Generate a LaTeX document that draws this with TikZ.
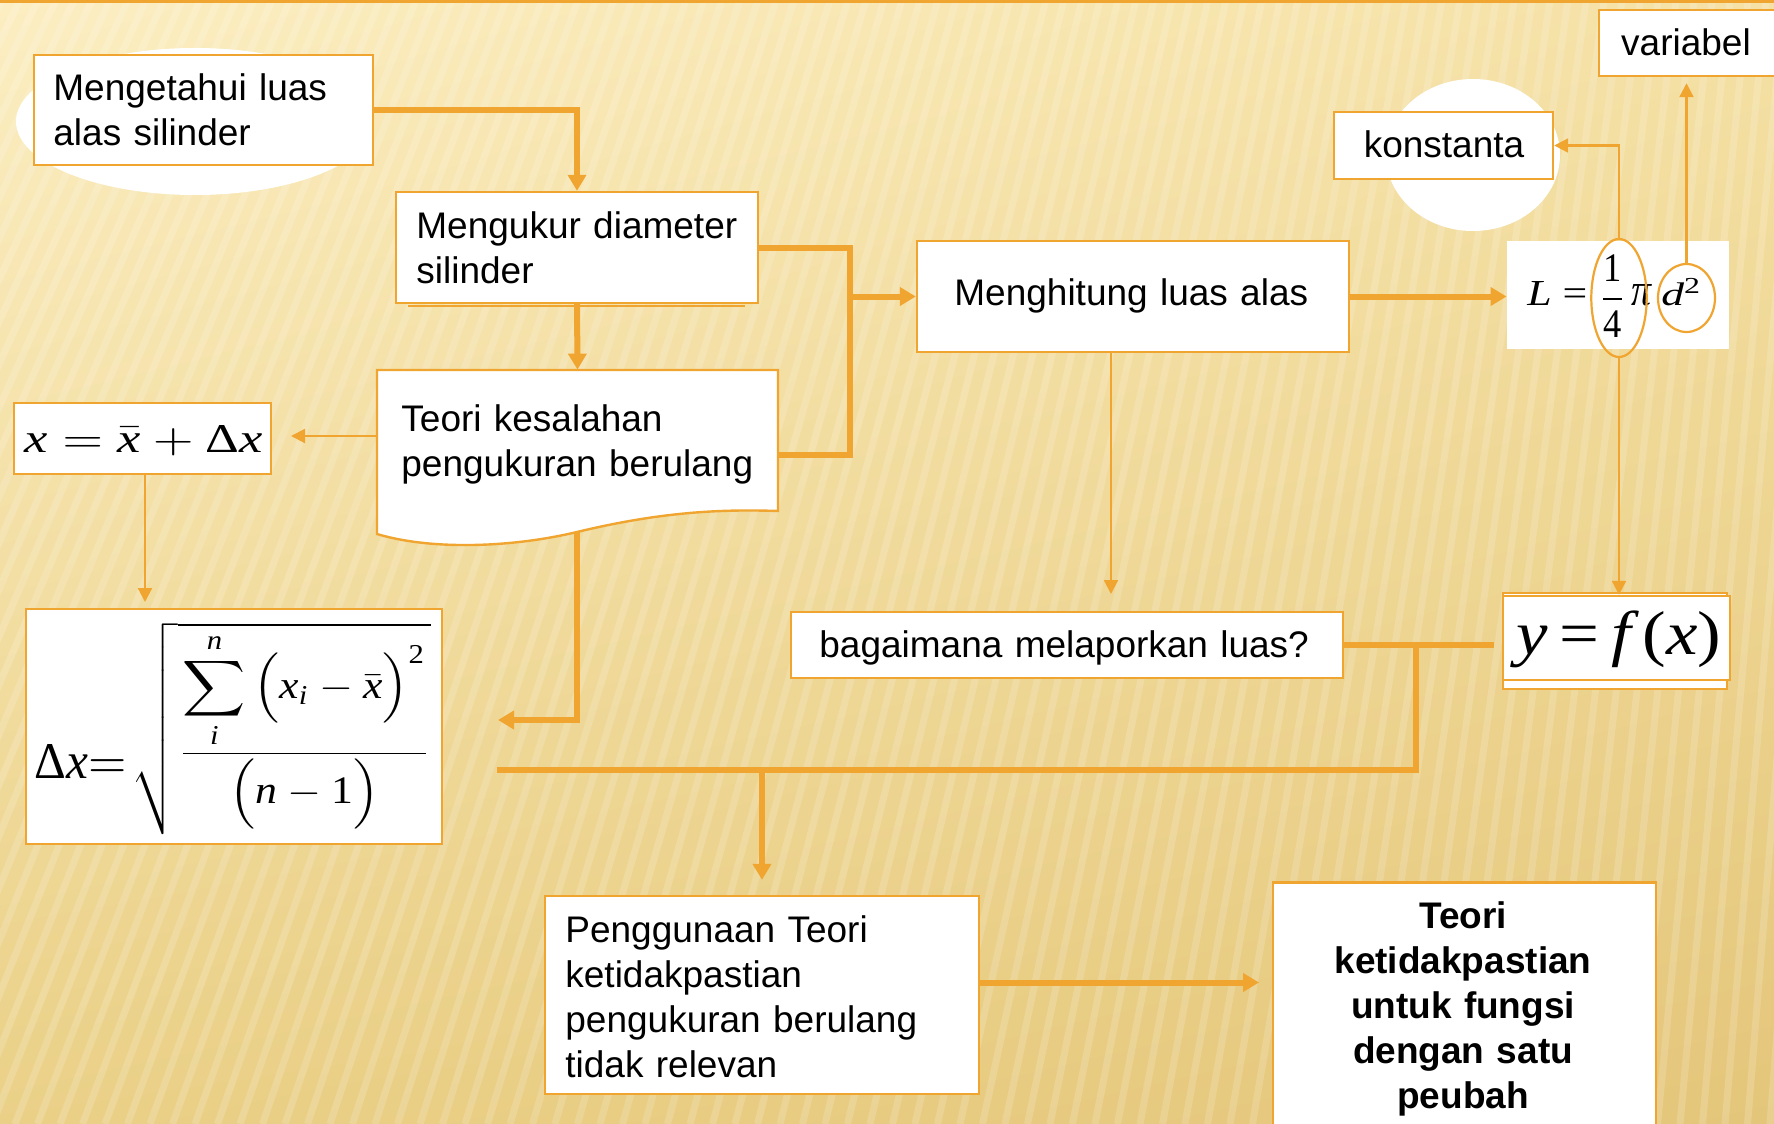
\documentclass[tikz,border=0pt]{standalone}
\usepackage{fontspec}
\usepackage{amsmath}
\usepackage{graphicx}
\setmainfont{Liberation Sans}
\newfontfamily\tnr{Liberation Serif}
\usetikzlibrary{arrows.meta,shapes.geometric,fit,calc,shadings}
\definecolor{org}{RGB}{240,165,48}
\definecolor{bgA}{RGB}{252,238,194}
\definecolor{bgB}{RGB}{245,225,165}
\definecolor{bgC}{RGB}{234,208,135}
\definecolor{bgD}{RGB}{228,198,122}
\newcommand{\mi}[1]{\text{\tnr\itshape #1}}
\newcommand{\mr}[1]{\text{\tnr #1}}
\tikzset{
  boxst/.style={draw=org, line width=1.2pt, fill=white, inner sep=0pt},
  txt/.style={inner sep=0pt, font=\fontsize{18.5}{22.5}\selectfont, text width=300pt, align=left, anchor=base west},
  btxt/.style={inner sep=0pt, font=\fontsize{18.5}{22.5}\selectfont\bfseries, text width=190pt, align=center, anchor=base},
  stxt/.style={inner sep=0pt, font=\fontsize{18.5}{22.5}\selectfont, anchor=base},
  thk/.style={draw=org, line width=3pt},
  thn/.style={draw=org, line width=1.1pt},
  tipk/.style={-{Triangle[length=8pt,width=9pt]}},
  tipn/.style={-{Triangle[length=7pt,width=7pt]}},
  fml/.style={inner sep=0pt},
  oval/.style={ellipse, fill=white, inner sep=0pt},
  ring/.style={ellipse, draw=org, line width=1.1pt, inner sep=0pt},
}
\begin{document}
\begin{tikzpicture}[x=0.5pt,y=-0.5pt]
\useasboundingbox (0,0) rectangle (1774,1124);
% background
\shade[upper left=bgA, upper right=bgB, lower left=bgC, lower right=bgD] (0,0) rectangle (1774,1124);
\foreach \x in {-700,-682,...,2000}
  \draw[white, opacity=0.16, line width=3.5pt] (\x,0) -- ({\x+(\x-2200)*0.25},1124);
\draw[org, line width=1.5pt] (0,1) -- (1774,1);

% white ovals
\node[oval, minimum width=179pt, minimum height=73.5pt] (oA) at (195,121.5) {};
\node[oval, minimum width=87pt, minimum height=76pt] (oK) at (1473,155) {};

% boxes
\node[boxst, fit={(34,55)(373,165)}] (A) {};
\node[boxst, fit={(396,192)(758,303)}] (B) {};
\draw[org, line width=1pt] (408,306) -- (745,306);
\fill[white] (377,370) -- (778,370) -- (778,511) .. controls (720,509) and (660,512) .. (577,532) .. controls (510,548) and (430,550) .. (377,534) -- cycle;
\draw[org, line width=1.2pt] (377,370) -- (778,370) -- (778,511) .. controls (720,509) and (660,512) .. (577,532) .. controls (510,548) and (430,550) .. (377,534) -- cycle;
\node[fit={(377,370)(778,535)}, inner sep=0pt] (C) {};
\coordinate (cb) at (577,532);
\node[boxst, fit={(14,403)(271,474)}] (G) {};
\node[boxst, fit={(26,609)(442,844)}] (I) {};
\node[boxst, fit={(917,241)(1349,352)}] (D) {};
\node[boxst, fit={(1334,112)(1553,179)}] (K) {};
\node[boxst, fit={(1599,10)(1800,76)}] (V) {};
\node[fill=white, inner sep=0pt, fit={(1507,241)(1729,349)}] (N) {};
\node[boxst, fit={(791,612)(1343,678)}] (Bg) {};
\node[boxst, fit={(1503,593)(1727,689)}] (Uo) {};
\node[boxst, fit={(1503,596)(1730,680)}] (U) {};
\node[boxst, fit={(545,896)(979,1094)}] (W) {};
\node[boxst, fit={(1273,882.5)(1656,1140)}] (Y) {};

% texts
\node[txt] (At) at (53,100) {Mengetahui luas\\alas silinder};
\node[txt] (Bt) at (416,238) {Mengukur diameter\\silinder};
\node[txt] (Ct) at (401,431) {Teori kesalahan\\pengukuran berulang};
\node[txt] (Dt) at (954,305) {Menghitung luas alas};
\node[stxt] (Kt) at (1444,157) {konstanta};
\node[stxt] (Vt) at (1686,55) {variabel};
\node[txt] (Bgt) at (819,657) {bagaimana melaporkan luas?};
\node[txt] (Wt) at (565,942) {Penggunaan Teori\\ketidakpastian\\pengukuran berulang\\tidak relevan};
\node[btxt] (Yt) at (1463,928) {Teori\\ketidakpastian\\untuk fungsi\\dengan satu\\peubah};

% formulas
\node[fml, anchor=base west] (Gf) at (24,452) {\resizebox{119pt}{13.5pt}{$\mi{x} = \bar{\mi{x}} + \mr{Δ}\mi{x}$}};
\node[fml, anchor=base west] (Ia) at (34,778) {\resizebox{46pt}{17pt}{$\mr{Δ}\mi{x}{=}$}};
\node[fml, anchor=north west] (Ib) at (131,622) {\resizebox*{150pt}{106pt}{$\sqrt{\dfrac{\displaystyle\sum_{\mi{i}}^{\mi{n}}\Big(\mi{x}_{\mi{i}}-\bar{\mi{x}}\Big)^{\mr{2}}}{\Big(\mi{n}-\mr{1}\Big)}}$}};
\node[fml, anchor=north west] (Uf) at (1516,610) {\resizebox*{102.5pt}{28.5pt}{\tnr\itshape y\upshape\,=\,\itshape f\upshape\,(\itshape x\upshape)}};
\node[fml, anchor=base west] (Lq) at (1527,305) {\resizebox{30pt}{12pt}{\tnr\itshape L\upshape\ =}};
\node[fml] (fr) at (1612.5,296) {\resizebox*{13.5pt}{41pt}{$\dfrac{\mr{1}}{\mr{4}}$}};
\node[fml, anchor=base west] (pi) at (1631,305) {\resizebox{10pt}{10.5pt}{\tnr\itshape π}};
\node[fml, anchor=base west] (dq) at (1661,305) {\resizebox{20.5pt}{13.5pt}{\tnr\itshape d\textsuperscript{\upshape 2}}};
\node[ring, minimum width=27.7pt, minimum height=59pt] (e1) at (1619,298) {};
\node[ring, minimum width=28.5pt, minimum height=34pt] (e2) at (1686.5,298) {};

% connectors
\draw[thk,tipk] (A.east) -| (B.north);
\draw[thk,tipk] (B.south) -- (C.north);
\coordinate (k) at (850,455);
\draw[thk] (B.east) -| (k) -- (C.east |- k);
\draw[thk,tipk] (k |- D.west) -- (D.west);
\coordinate (fG) at (291,436);
\draw[thn,tipn] (C.west |- fG) -- (fG);
\coordinate (hI) at (145,602);
\draw[thn,tipn] (G.south -| hI) -- (hI);
\coordinate (j1) at (498,720);
\draw[thk,tipk] (cb) |- (j1);
\draw[thk,tipk] (D.east) -- (N.west |- D.east);
\draw[thn,tipn] (e1.north) |- (K.east);
\draw[thn,tipn, shorten >=3pt] (e2.north) -- (e2.north |- V.south);
\draw[thn,tipn] (e1.south) -- (e1.south |- U.north);
\coordinate (tT) at (1111,594);
\draw[thn,tipn] (D.south -| tT) -- (tT);
\coordinate (v1) at (1416,770);
\coordinate (v2) at (497,770);
\draw[thk, shorten >=4pt] (Bg.east) -- (U.west |- Bg.east);
\draw[thk] (v1 |- Bg.east) -- (v1) -- (v2);
\draw[thk,tipk, shorten >=7.5pt] (W.north |- v1) -- (W.north);
\coordinate (x1) at (1259,982.5);
\draw[thk,tipk] (W.east |- x1) -- (x1);
\end{tikzpicture}
\end{document}
